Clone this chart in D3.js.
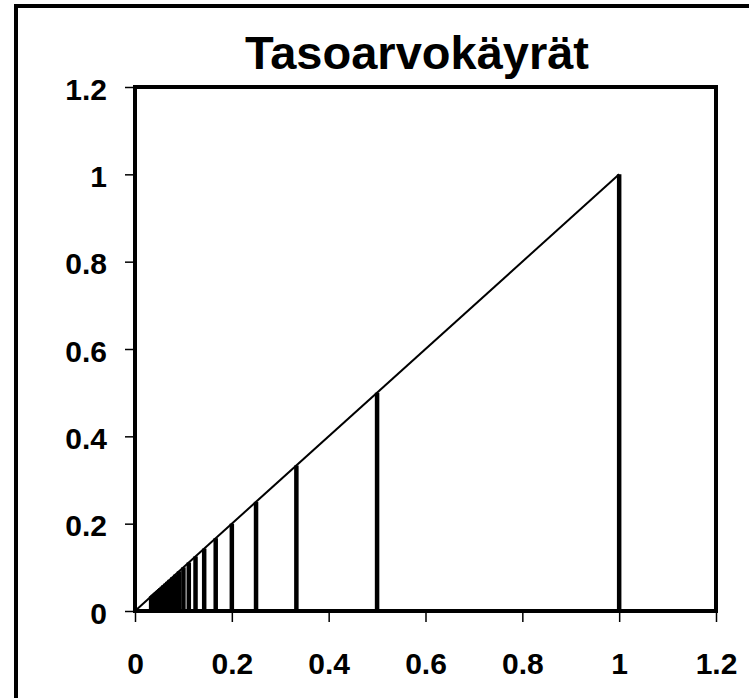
<!DOCTYPE html>
<html>

<head>
    <meta charset="utf-8">
    <title>Tasoarvokäyrät</title>
    <script src="https://d3js.org/d3.v7.min.js"></script>
    <style>
        body {
            margin: 0;
            background: #fff;
        }

        text {
            font-family: "Liberation Sans", Arial, sans-serif;
            font-weight: bold;
            fill: #000;
        }
    </style>
</head>

<body>
    <div id="chart"></div>

    <script>
        const titleText = "Tasoarvokäyrät";
        const xTicks = [0, 0.2, 0.4, 0.6, 0.8, 1, 1.2];
        const yTicks = [0, 0.2, 0.4, 0.6, 0.8, 1, 1.2];

        // level values (x position and height of each vertical line)
        const levels = [1, 0.5, 0.3333, 0.25, 0.2, 0.1667, 0.1429, 0.125, 0.1111, 0.1,
            0.0909, 0.0833, 0.0769, 0.0714, 0.0667, 0.0625, 0.0588, 0.0556, 0.0526, 0.05,
            0.0476, 0.0455, 0.0435, 0.0417, 0.04, 0.0385, 0.037, 0.0357, 0.0345, 0.0333];

        // diagonal through the tops of the lines
        const diagonal = [[0, 0], [1, 1]];

        const W = 749, H = 698;
        const plot = { left: 135, right: 716, top: 87, bottom: 611 };

        const svg = d3.select("#chart")
            .append("svg")
            .attr("width", W)
            .attr("height", H);

        // outer chart frame (runs off the right and bottom edges)
        svg.append("rect")
            .attr("x", 16)
            .attr("y", 6)
            .attr("width", 900)
            .attr("height", 900)
            .attr("fill", "none")
            .attr("stroke", "#000")
            .attr("stroke-width", 4);

        const x = d3.scaleLinear().domain([0, 1.2]).range([plot.left, plot.right]);
        const y = d3.scaleLinear().domain([0, 1.2]).range([plot.bottom, plot.top]);

        // title
        svg.append("text")
            .attr("x", 417)
            .attr("y", 69)
            .attr("text-anchor", "middle")
            .style("font-size", "47px")
            .text(titleText);

        // x axis
        const xAxis = svg.append("g")
            .attr("transform", `translate(0,${plot.bottom})`)
            .call(d3.axisBottom(x).tickValues(xTicks).tickSize(11).tickPadding(31)
                .tickFormat(d3.format("")));
        xAxis.select(".domain").remove();
        xAxis.selectAll("line").attr("stroke", "#000").attr("stroke-width", 1.5);
        xAxis.selectAll("text").style("font-size", "30px").attr("fill", "#000");

        // y axis
        const yAxis = svg.append("g")
            .attr("transform", `translate(${plot.left},0)`)
            .call(d3.axisLeft(y).tickValues(yTicks).tickSize(10).tickPadding(18)
                .tickFormat(d3.format("")));
        yAxis.select(".domain").remove();
        yAxis.selectAll("line").attr("stroke", "#000").attr("stroke-width", 1.5);
        yAxis.selectAll("text").style("font-size", "30px").attr("fill", "#000")
            .attr("dy", "0.4em");

        // plot area border
        svg.append("rect")
            .attr("x", plot.left)
            .attr("y", plot.top)
            .attr("width", plot.right - plot.left)
            .attr("height", plot.bottom - plot.top)
            .attr("fill", "none")
            .attr("stroke", "#000")
            .attr("stroke-width", 4);

        // vertical level lines
        svg.append("g")
            .selectAll("line")
            .data(levels)
            .join("line")
            .attr("x1", d => x(d))
            .attr("x2", d => x(d))
            .attr("y1", y(0))
            .attr("y2", d => y(d))
            .attr("stroke", "#000")
            .attr("stroke-width", 4.5);

        // diagonal
        svg.append("path")
            .datum(diagonal)
            .attr("fill", "none")
            .attr("stroke", "#000")
            .attr("stroke-width", 2)
            .attr("d", d3.line().x(d => x(d[0])).y(d => y(d[1])));
    </script>
</body>

</html>
